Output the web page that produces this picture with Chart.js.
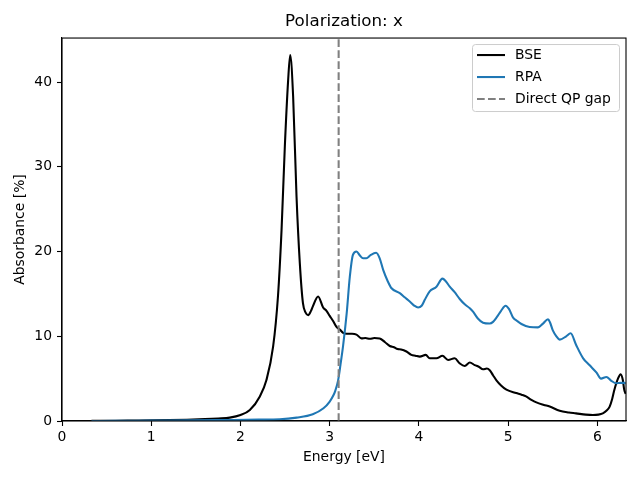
<!DOCTYPE html>
<html>
<head>
<meta charset="utf-8">
<script src="https://cdn.jsdelivr.net/npm/chart.js@4"></script>
<style>
html,body{margin:0;padding:0;background:#fff;}
#wrap{width:640px;height:480px;}
</style>
</head>
<body>
<div id="wrap"><canvas id="c" width="640" height="480"></canvas></div>
<script>
const bseEnergy = [0.33,0.6,0.8,1.0,1.2,1.4,1.6,1.75,1.88,2.0,2.105,2.217,2.29,2.366,2.42,2.46,2.497,2.534,2.557,2.59,2.628,2.665,2.70,2.73,2.758,2.79,2.81,2.87,2.926,2.964,3.0,3.038,3.076,3.113,3.15,3.19,3.25,3.30,3.356,3.40,3.45,3.50,3.56,3.62,3.673,3.72,3.76,3.80,3.86,3.915,3.96,4.01,4.076,4.12,4.196,4.263,4.326,4.40,4.457,4.513,4.57,4.625,4.67,4.718,4.76,4.793,4.83,4.868,4.92,4.98,5.09,5.15,5.20,5.26,5.316,5.40,5.465,5.577,5.68,5.76,5.87,5.95,6.01,6.06,6.10,6.137,6.165,6.19,6.23,6.26,6.285,6.30,6.316];
const bseAbs = [0.02,0.03,0.05,0.07,0.1,0.15,0.22,0.3,0.4,0.7,1.3,2.9,4.8,8.8,14.7,22.5,32.4,40.2,43.2,38.3,26.5,18.6,13.9,12.8,12.5,13.0,13.5,14.7,13.4,13.0,12.4,11.8,11.1,10.8,10.4,10.3,10.3,10.2,9.75,9.8,9.7,9.8,9.75,9.3,8.85,8.7,8.5,8.45,8.2,7.8,7.7,7.6,7.8,7.4,7.4,7.7,7.2,7.4,6.8,6.5,6.9,6.6,6.4,6.1,6.2,6.0,5.4,4.8,4.2,3.7,3.3,3.1,2.9,2.5,2.2,1.9,1.7,1.2,1.0,0.9,0.75,0.7,0.75,0.9,1.2,1.7,2.6,3.7,5.0,5.5,4.8,3.7,3.2];
const rpaEnergy = [0.33,0.6,1.0,1.5,1.88,2.2,2.44,2.63,2.81,2.93,3.0,3.04,3.06,3.094,3.12,3.15,3.19,3.225,3.26,3.30,3.34,3.374,3.41,3.46,3.52,3.56,3.60,3.65,3.69,3.785,3.84,3.897,3.95,3.99,4.03,4.065,4.12,4.196,4.263,4.30,4.345,4.40,4.457,4.51,4.57,4.606,4.66,4.718,4.793,4.83,4.868,4.92,4.97,5.01,5.055,5.10,5.148,5.24,5.334,5.39,5.446,5.47,5.50,5.54,5.577,5.65,5.70,5.76,5.84,5.91,5.99,6.04,6.10,6.155,6.21,6.26,6.30,6.316];
const rpaAbs = [0.0,0.02,0.04,0.07,0.12,0.16,0.2,0.4,0.8,1.5,2.3,3.0,3.5,4.8,6.6,8.9,12.7,17.0,19.6,20.0,19.5,19.2,19.2,19.6,19.85,19.2,17.8,16.5,15.7,15.1,14.6,14.1,13.6,13.4,13.6,14.3,15.3,15.85,16.8,16.5,15.85,15.2,14.4,13.8,13.3,12.9,12.1,11.6,11.5,11.7,12.2,13.0,13.6,13.2,12.2,11.8,11.45,11.1,11.05,11.5,12.0,11.6,10.7,10.0,9.6,10.0,10.35,9.0,7.4,6.6,5.7,5.0,5.2,4.75,4.45,4.5,4.5,4.4];
const gapEnergy = 3.1;
const xTicks = [0,1,2,3,4,5,6];
const yTicks = [0,10,20,30,40];
const seriesNames = ['BSE','RPA','Direct QP gap'];
const xRange = [0, 6.32];
const yRange = [0, 45.2];

const FONT = 'DejaVu Sans';
const LW = 2.08;
const DASH = [7.7, 3.3];
const toXY = (xs, ys) => xs.map((x, i) => ({x: x, y: ys[i]}));

const legendItems = [
  {label: seriesNames[0], color: '#000000', dash: []},
  {label: seriesNames[1], color: '#1f77b4', dash: []},
  {label: seriesNames[2], color: '#808080', dash: DASH}
];

const framePlugin = {
  id: 'frame',
  afterDatasetsDraw(chart) {
    const a = chart.chartArea, ctx = chart.ctx;
    ctx.save();
    ctx.strokeStyle = '#000';
    ctx.lineWidth = 1.1;
    ctx.strokeRect(a.left, a.top, a.right - a.left, a.bottom - a.top);
    ctx.restore();
  },
  afterDraw(chart) {
    const a = chart.chartArea, ctx = chart.ctx;
    ctx.save();
    const bx = a.right - 154, by = a.top + 6, bw = 147, bh = 67;
    ctx.beginPath();
    ctx.roundRect(bx + 0.5, by + 0.5, bw, bh, 3);
    ctx.fillStyle = 'rgba(255,255,255,0.8)';
    ctx.fill();
    ctx.strokeStyle = '#cccccc';
    ctx.lineWidth = 1;
    ctx.stroke();
    ctx.font = '13.9px "' + FONT + '"';
    ctx.textBaseline = 'middle';
    ctx.textAlign = 'left';
    legendItems.forEach((it, i) => {
      const y = by + 11 + i * 22;
      ctx.beginPath();
      ctx.setLineDash(it.dash);
      ctx.strokeStyle = it.color;
      ctx.lineWidth = LW;
      ctx.moveTo(bx + 5, y);
      ctx.lineTo(bx + 33, y);
      ctx.stroke();
      ctx.setLineDash([]);
      ctx.fillStyle = '#000';
      ctx.fillText(it.label, bx + 43, y);
    });
    ctx.restore();
  }
};

new Chart(document.getElementById('c'), {
  type: 'line',
  data: {
    datasets: [
      {label: seriesNames[0], data: toXY(bseEnergy, bseAbs), borderColor: '#000000', borderWidth: LW, pointRadius: 0, cubicInterpolationMode: 'monotone', order: 3},
      {label: seriesNames[1], data: toXY(rpaEnergy, rpaAbs), borderColor: '#1f77b4', borderWidth: LW, pointRadius: 0, cubicInterpolationMode: 'monotone', order: 2},
      {label: seriesNames[2], data: [{x: gapEnergy, y: yRange[0]}, {x: gapEnergy, y: yRange[1]}], borderColor: '#808080', borderWidth: LW, borderDash: DASH, pointRadius: 0, order: 1}
    ]
  },
  options: {
    responsive: false,
    animation: false,
    devicePixelRatio: 1,
    layout: {padding: {left: 0, right: 14, top: 0, bottom: 0}},
    plugins: {
      legend: {display: false},
      tooltip: {enabled: false},
      title: {display: true, fullSize: false, text: 'Polarization: x', color: '#000', font: {family: FONT, size: 16.7, weight: 'normal'}, padding: {top: 12, bottom: 6}}
    },
    scales: {
      x: {
        type: 'linear', min: xRange[0], max: xRange[1],
        afterFit(s) { s.height = 59; },
        afterBuildTicks(s) { s.ticks = xTicks.map(v => ({value: v})); },
        grid: {display: true, drawOnChartArea: false, drawTicks: true, tickLength: 5, tickColor: '#000', tickWidth: 1.1},
        border: {display: true, color: '#000', width: 1.1},
        ticks: {color: '#000', padding: 3, maxRotation: 0, font: {family: FONT, size: 13.9}, callback: v => String(v)},
        title: {display: true, text: 'Energy [eV]', color: '#000', font: {family: FONT, size: 13.9}, padding: {top: 0, bottom: 14}}
      },
      y: {
        type: 'linear', min: yRange[0], max: yRange[1],
        afterFit(s) { s.width = 62; },
        afterBuildTicks(s) { s.ticks = yTicks.map(v => ({value: v})); },
        grid: {display: true, drawOnChartArea: false, drawTicks: true, tickLength: 5, tickColor: '#000', tickWidth: 1.1},
        border: {display: true, color: '#000', width: 1.1},
        ticks: {color: '#000', padding: 5, font: {family: FONT, size: 13.9}, callback: v => String(v)},
        title: {display: true, text: 'Absorbance [%]', color: '#000', font: {family: FONT, size: 13.9}, padding: {top: 12, bottom: 0}}
      }
    }
  },
  plugins: [framePlugin]
});
</script>
</body>
</html>
